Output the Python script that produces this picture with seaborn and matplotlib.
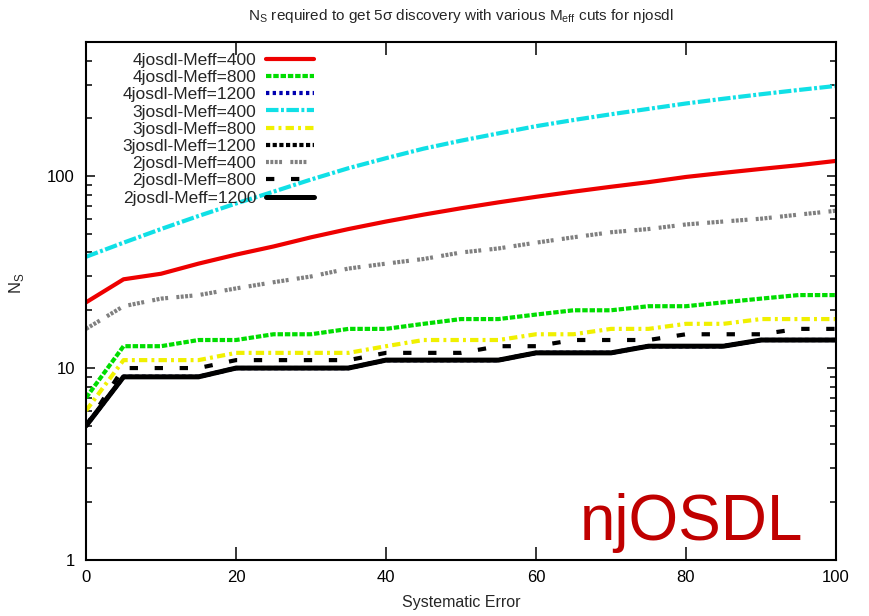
import matplotlib
matplotlib.use("Agg")
import matplotlib.pyplot as plt
from matplotlib.ticker import LogLocator, NullFormatter, FixedLocator
import pandas as pd
import seaborn as sns

# Systematic error (%) on the x axis
sys_error = [0, 5, 10, 15, 20, 25, 30, 35, 40, 45, 50,
             55, 60, 65, 70, 75, 80, 85, 90, 95, 100]

# Required number of signal events for a 5 sigma discovery
ns_4j_400 = [22, 29, 31, 35, 39, 43, 48, 53, 58, 63, 68,
             73, 78, 83, 88, 93, 99, 104, 109, 114, 120]
ns_4j_800 = [7, 13, 13, 14, 14, 15, 15, 16, 16, 17, 18,
             18, 19, 20, 20, 21, 21, 22, 23, 24, 24]
ns_4j_1200 = [5, 9, 9, 9, 10, 10, 10, 10, 11, 11, 11,
              11, 12, 12, 12, 13, 13, 13, 14, 14, 14]
ns_3j_400 = [38, 45, 53, 62, 72, 83, 96, 110, 124, 139, 153,
             167, 182, 196, 210, 224, 239, 253, 267, 281, 295]
ns_3j_800 = [6, 11, 11, 11, 12, 12, 12, 12, 13, 14, 14,
             14, 15, 15, 16, 16, 17, 17, 18, 18, 18]
ns_3j_1200 = [5, 9, 9, 9, 10, 10, 10, 10, 11, 11, 11,
              11, 12, 12, 12, 13, 13, 13, 14, 14, 14]
ns_2j_400 = [16, 21, 23, 24, 26, 28, 30, 33, 35, 37, 40,
             42, 45, 48, 51, 53, 56, 58, 60, 63, 66]
ns_2j_800 = [5, 10, 10, 10, 11, 11, 11, 11, 12, 12, 12,
             13, 13, 14, 14, 14, 15, 15, 15, 16, 16]
ns_2j_1200 = [5, 9, 9, 9, 10, 10, 10, 10, 11, 11, 11,
              11, 12, 12, 12, 13, 13, 13, 14, 14, 14]

series_labels = ["4josdl-Meff=400", "4josdl-Meff=800", "4josdl-Meff=1200",
                 "3josdl-Meff=400", "3josdl-Meff=800", "3josdl-Meff=1200",
                 "2josdl-Meff=400", "2josdl-Meff=800", "2josdl-Meff=1200"]
series_values = [ns_4j_400, ns_4j_800, ns_4j_1200,
                 ns_3j_400, ns_3j_800, ns_3j_1200,
                 ns_2j_400, ns_2j_800, ns_2j_1200]

x_ticks = [0, 20, 40, 60, 80, 100]
y_ticks = [1, 10, 100]
y_tick_labels = ["1", "10", "100"]

colors = ["#ee0000", "#00dd00", "#0000b0",
          "#10e0e6", "#f0f000", "#000000",
          "#808080", "#000000", "#000000"]
dash_styles = ["", (1.3, 0.45), (0.8, 0.8),
               (3.0, 0.6, 0.7, 0.6), (2.0, 1.0, 0.7, 1.0), (1.0, 0.6),
               (0.7, 0.35, 0.7, 0.35, 0.7, 0.35, 0.7, 2.0), (2.0, 4.0), ""]

df = pd.DataFrame({
    "Systematic Error": sys_error * len(series_labels),
    "N_S": [v for vals in series_values for v in vals],
    "cut": [lab for lab in series_labels for _ in sys_error],
})

sns.set_style("ticks")
plt.rcParams["font.family"] = ["Liberation Sans", "DejaVu Sans"]
plt.rcParams["mathtext.fontset"] = "custom"
plt.rcParams["mathtext.rm"] = "Liberation Sans"

fig = plt.figure(figsize=(8.7, 6.16), dpi=100)
ax = fig.add_axes([0.0989, 0.0909, 0.862, 0.841])
ax.set_yscale("log")

sns.lineplot(data=df, x="Systematic Error", y="N_S", hue="cut", style="cut",
             hue_order=series_labels, style_order=series_labels,
             palette=dict(zip(series_labels, colors)),
             dashes=dict(zip(series_labels, dash_styles)),
             linewidth=3.0, legend=False, ax=ax)

lines = ax.get_lines()
lines[-1].set_linewidth(3.6)

ax.set_xlim(0, 100)
ax.set_ylim(1, 500)
ax.xaxis.set_major_locator(FixedLocator(x_ticks))
ax.set_xticklabels([str(t) for t in x_ticks])
ax.set_yticks(y_ticks)
ax.set_yticklabels(y_tick_labels)
ax.yaxis.set_minor_locator(LogLocator(base=10, subs=range(2, 10)))
ax.yaxis.set_minor_formatter(NullFormatter())

for sp in ax.spines.values():
    sp.set_visible(True)
    sp.set_linewidth(1.5)
    sp.set_color("black")

ax.tick_params(which="both", direction="in", top=True, right=True,
               color="black", width=1.1, labelsize=12, labelcolor="black")
ax.tick_params(axis="x", which="major", length=9.5, pad=7)
ax.tick_params(axis="y", which="major", length=6.5, pad=8)
ax.tick_params(axis="y", which="minor", length=4)

ax.set_xlabel("Systematic Error", fontsize=11.5)
ax.xaxis.set_label_coords(0.5, -0.068)
ax.set_ylabel(r"N$_\mathregular{S}$", fontsize=12)
ax.yaxis.set_label_coords(-0.08, 0.535)
ax.set_title(r"N$_\mathregular{S}$ required to get 5σ discovery with various "
             r"M$_\mathregular{eff}$ cuts for njosdl", fontsize=11, pad=16)

leg = ax.legend(lines, series_labels, loc="upper right",
                bbox_to_anchor=(323 / 870, 1 - 44 / 616),
                bbox_transform=fig.transFigure, frameon=False,
                markerfirst=False, handlelength=2.8, handletextpad=0.55,
                labelspacing=0.12, borderpad=0, fontsize=12.5)
for col in leg._legend_handle_box.get_children():
    col.align = "right"

fig.text(803 / 870, 1 - 540 / 616, "njOSDL", color="#c00000", fontsize=46,
         ha="right", va="baseline")

fig.savefig("out.png", dpi=100)
